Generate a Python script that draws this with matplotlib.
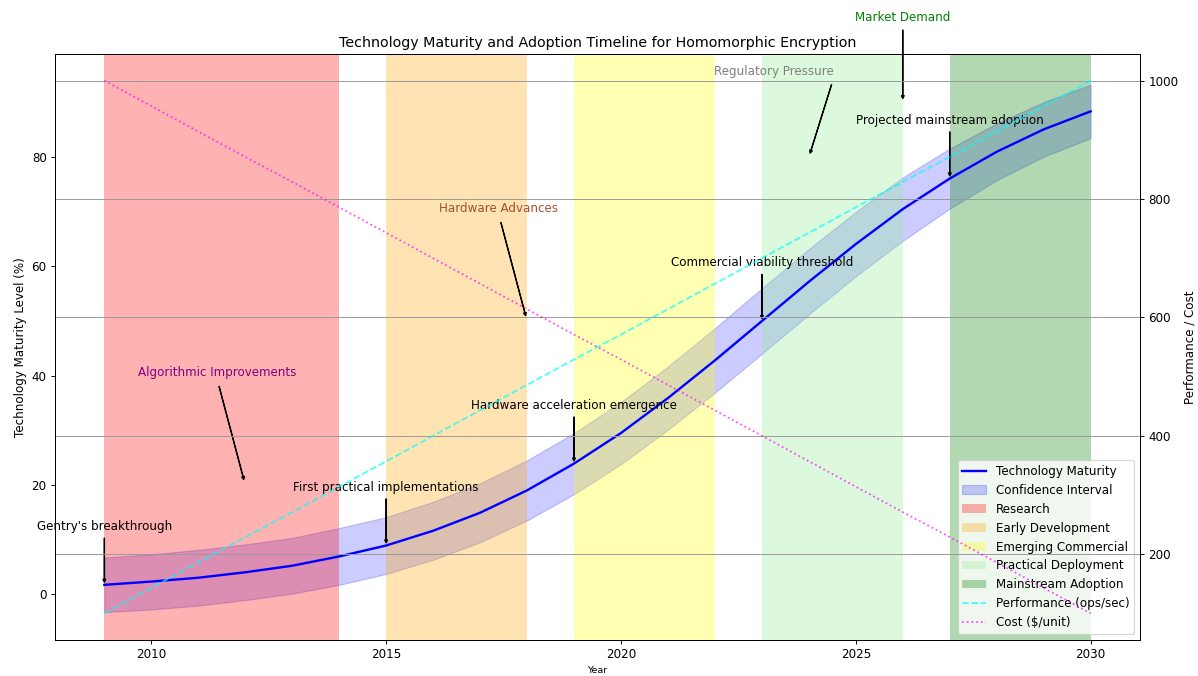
import matplotlib
matplotlib.use("Agg")
import matplotlib.pyplot as plt

# ---- data -------------------------------------------------------------
years = [2009, 2010, 2011, 2012, 2013, 2014, 2015, 2016, 2017, 2018, 2019,
         2020, 2021, 2022, 2023, 2024, 2025, 2026, 2027, 2028, 2029, 2030]

maturity = [1.7, 2.3, 3.0, 4.0, 5.2, 6.9, 8.9, 11.6, 14.9, 19.0, 23.9,
            29.5, 35.9, 42.8, 50.0, 57.2, 64.1, 70.5, 76.1, 81.0, 85.1, 88.4]

ci_lower = [-3.3, -2.8, -2.1, -1.1, 0.1, 1.7, 3.7, 6.3, 9.5, 13.5, 18.3,
            23.8, 30.1, 36.9, 44.0, 51.2, 58.2, 64.7, 70.6, 75.8, 80.1, 83.5]
ci_upper = [6.7, 7.3, 8.1, 9.1, 10.3, 12.1, 14.1, 16.9, 20.3, 24.5, 29.5,
            35.2, 41.7, 48.7, 56.0, 63.2, 70.0, 76.3, 81.6, 86.2, 90.1, 93.3]

performance = [100, 143, 186, 229, 271, 314, 357, 400, 443, 486, 529,
               571, 614, 657, 700, 743, 786, 829, 871, 914, 957, 1000]
cost = [1000, 957, 914, 871, 829, 786, 743, 700, 657, 614, 571,
        529, 486, 443, 400, 357, 314, 271, 229, 186, 143, 100]

phase_names = ["Research", "Early Development", "Emerging Commercial",
               "Practical Deployment", "Mainstream Adoption"]
phase_start = [2009, 2015, 2019, 2023, 2027]
phase_end = [2014, 2018, 2022, 2026, 2030]
phase_colors = ["red", "orange", "yellow", "lightgreen", "green"]

milestone_years = [2009, 2015, 2019, 2023, 2027]
milestone_labels = ["Gentry's breakthrough", "First practical implementations",
                    "Hardware acceleration emergence",
                    "Commercial viability threshold",
                    "Projected mainstream adoption"]

factor_labels = ["Algorithmic Improvements", "Hardware Advances",
                 "Regulatory Pressure", "Market Demand"]
factor_xy = [(2012, 20), (2018, 50), (2024, 80), (2026, 90)]
factor_text_xy = [(2011.4, 40), (2017.4, 70), (2023.25, 95), (2026, 105)]
factor_colors = ["purple", "sienna", "gray", "green"]

# ---- figure -----------------------------------------------------------
dpi = 1198 / 14
fig = plt.figure(figsize=(14, 676 / dpi), dpi=dpi)
ax1 = fig.add_axes([55 / 1198, 1 - 640 / 676, 1085 / 1198, 586 / 676])

arrow_style = dict(facecolor="black", edgecolor="black", shrink=0.05,
                   width=0.3, headwidth=2.5, headlength=2.5)

ax1.plot(years, maturity, color="blue", linewidth=2,
         label="Technology Maturity")
ax1.fill_between(years, ci_lower, ci_upper, color="blue", alpha=0.2,
                 label="Confidence Interval")

for name, s, e, c in zip(phase_names, phase_start, phase_end, phase_colors):
    ax1.axvspan(s, e, color=c, alpha=0.3, label=name, linewidth=0)

for yr, lab in zip(milestone_years, milestone_labels):
    val = maturity[years.index(yr)]
    ax1.annotate(lab, xy=(yr, val), xytext=(yr, val + 10), ha="center",
                 arrowprops=arrow_style)

for lab, xy, txy, c in zip(factor_labels, factor_xy, factor_text_xy,
                           factor_colors):
    ax1.annotate(lab, xy=xy, xytext=txy, ha="center", color=c,
                 arrowprops=arrow_style)

ax1.set_ylim(-8.4, 98.9)
ax1.set_xlabel("Year", fontsize=8)
ax1.set_ylabel("Technology Maturity Level (%)")
ax1.set_title("Technology Maturity and Adoption Timeline for Homomorphic Encryption",
              fontsize=12)

ax2 = ax1.twinx()
ax2.plot(years, performance, color="cyan", linestyle="--", alpha=0.7,
         label="Performance (ops/sec)")
ax2.plot(years, cost, color="magenta", linestyle=":", alpha=0.7,
         label="Cost ($/unit)")
ax2.set_ylabel("Performance / Cost")
ax2.grid(True, color="#999999", linewidth=0.8)

h1, l1 = ax1.get_legend_handles_labels()
h2, l2 = ax2.get_legend_handles_labels()
ax1.legend(h1 + h2, l1 + l2, loc="lower right")

fig.savefig("out.png", dpi=dpi)
